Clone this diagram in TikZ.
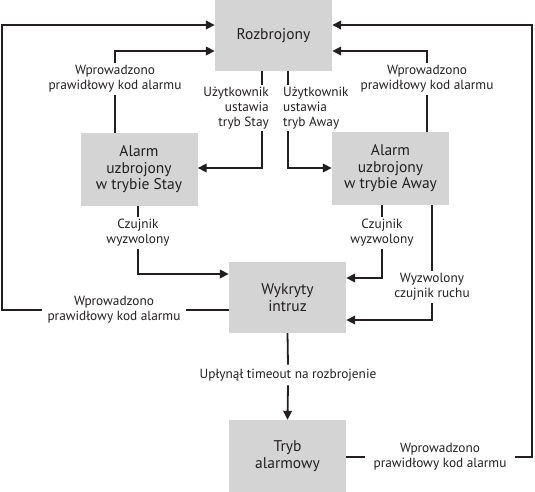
\documentclass[tikz,border=0pt]{standalone}
\usepackage{fontspec}
\setmainfont{PT Sans}
\usetikzlibrary{arrows.meta}
\definecolor{boxgray}{HTML}{D4D4D4}
\definecolor{txt}{HTML}{231F20}
\begin{document}
\begin{tikzpicture}[x=1pt,y=-1pt,
  state/.style={fill=boxgray, minimum width=117pt, inner sep=0pt, align=center,
    font=\fontsize{15.5}{16.5}\selectfont, text=txt},
  lbl/.style={align=center, font=\fontsize{13.3}{15}\selectfont, text=txt,
    inner xsep=3pt, inner ysep=2pt},
  conn/.style={line width=1.8pt, draw=txt},
  arr/.style={conn, -{Triangle[length=9pt,width=8.5pt]}}]
\useasboundingbox (0,0) rectangle (535,492);

% states
\node[state, minimum height=71pt] (roz) at (273.5,35.5) {Rozbrojony};
\node[state, minimum height=73pt] (stay) at (139,169.5) {Alarm\\uzbrojony\\w trybie Stay};
\node[state, minimum height=73pt] (away) at (390.5,168.5) {Alarm\\uzbrojony\\w trybie Away};
\node[state, minimum height=71pt] (wyk) at (287.5,297.5) {Wykryty\\intruz};
\node[state, minimum height=72pt] (tryb) at (287.5,456) {Tryb\\alarmowy};

% labels
\node[lbl] (l1) at (115,79) {Wprowadzono\\prawidłowy kod alarmu};
\node[lbl, anchor=east, align=right] (l2) at (272,108) {Użytkownik\\ustawia\\tryb Stay};
\node[lbl, anchor=west, align=left] (l3) at (280,108) {Użytkownik\\ustawia\\tryb Away};
\node[lbl] (l4) at (427,79) {Wprowadzono\\prawidłowy kod alarmu};
\node[lbl] (l5) at (138,233) {Czujnik\\wyzwolony};
\node[lbl] (l6) at (382,233) {Czujnik\\wyzwolony};
\node[lbl] (l7) at (432,287) {Wyzwolony\\czujnik ruchu};
\node[lbl] (l8) at (114,310) {Wprowadzono\\prawidłowy kod alarmu};
\node[lbl, inner ysep=4pt] (l9) at (288,375) {Upłynął timeout na rozbrojenie};
\node[lbl] (l10) at (440,457) {Wprowadzono\\prawidłowy kod alarmu};

% helper coordinates
\coordinate (sx) at (262,0);
\coordinate (ax) at (288,0);
\coordinate (cl) at (2,25);
\coordinate (cr) at (532,25);

% Rozbrojony -> Stay / Away
\draw[conn] (roz.south -| sx) -- (sx |- l2.north);
\draw[arr] (sx |- l2.south) |- ([yshift=1.5pt]stay.east);
\draw[conn] (roz.south -| ax) -- (ax |- l3.north);
\draw[arr] (ax |- l3.south) |- ([yshift=0.5pt]away.west);

% Stay / Away -> Rozbrojony
\draw[conn] (stay.north -| l1) -- (l1.south);
\draw[arr] (l1.north) |- ([yshift=-15.5pt]roz.west);
\draw[conn] (away.north -| l4) -- (l4.south);
\draw[arr] (l4.north) |- ([yshift=-15.5pt]roz.east);

% sensors -> Wykryty
\draw[conn] (stay.south -| l5) -- (l5.north);
\draw[arr] (l5.south) |- ([yshift=23.5pt]wyk.west);
\draw[conn] (away.south -| l6) -- (l6.north);
\draw[arr] (l6.south) |- ([yshift=19.5pt]wyk.east);
\draw[conn] (away.south -| l7) -- (l7.north);
\draw[arr] (l7.south) |- ([yshift=-22.5pt]wyk.east);

% Wykryty -> Rozbrojony (outer left)
\draw[conn] (wyk.west |- l8) -- ([xshift=2pt]l8.east);
\draw[arr] ([xshift=-2pt]l8.west) -| (cl) -- (roz.west |- cl);

% Wykryty -> Tryb
\draw[conn] (wyk.south) -- (l9.north);
\draw[arr] (l9.south) -- (tryb.north);

% Tryb -> Rozbrojony (outer right)
\draw[conn] (tryb.east |- l10) -- ([xshift=-5pt]l10.west);
\draw[arr] ([xshift=5pt]l10.east) -| (cr) -- (roz.east |- cr);
\end{tikzpicture}
\end{document}
